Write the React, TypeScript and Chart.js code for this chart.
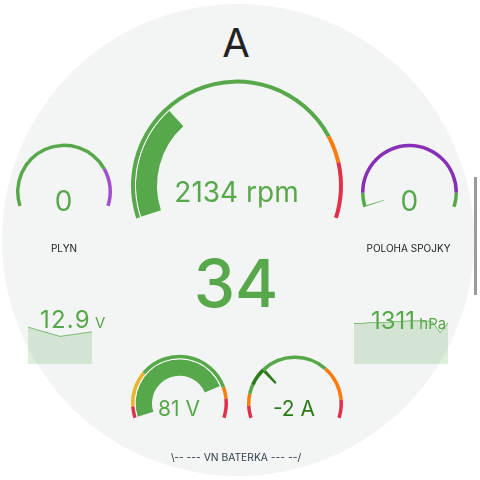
import React, { useEffect, useRef } from "react";
import { Chart, registerables } from "chart.js";

Chart.register(...registerables);

// ---------- colours ----------
const GREEN = "#57a84a";
const DARK_GREEN = "#2c7a16";
const ORANGE = "#fb7c0c";
const RED = "#e0314b";
const YELLOW = "#e8b531";
const PURPLE_A = "#a24ed0";
const PURPLE_B = "#8730b5";
const WHITE = "#ffffff";
const NONE = "rgba(0,0,0,0)";
const FILL = "rgba(87,168,74,0.2)";
const LINE = "rgba(87,168,74,0.75)";

// ---------- data ----------
const titleText = "A";
const gearValue = 34;

// engine rpm gauge
const rpmValue = 2134;
const rpmMin = 0;
const rpmBounds = [5500, 6000, 7000];
const rpmColors = [GREEN, ORANGE, RED];
const rpmUnit = "rpm";

// throttle (PLYN)
const plynValue = 0;
const plynMin = 0;
const plynBounds = [78, 100];
const plynColors = [GREEN, PURPLE_A];
const plynLabel = "PLYN";

// clutch position (POLOHA SPOJKY)
const spojkyValue = 0;
const spojkyMin = 0;
const spojkyBounds = [8, 92, 100];
const spojkyColors = [GREEN, PURPLE_B, GREEN];
const spojkyLabel = "POLOHA SPOJKY";

// 12V battery sparkline
const battValues = [12.9, 12.8, 12.85];
const battMin = 12.5;
const battMax = 13.0;
const battText = "12.9";
const battUnit = "V";

// pressure sparkline
const pressValues = [1311.4, 1311.4, 1311.5, 1311.5, 1311.5, 1311.6, 1311.6, 1311.7, 1311.7, 1311.7, 1311.6, 1310.4, 1311.5];
const pressMin = 1307;
const pressMax = 1312;
const pressText = "1311";
const pressUnit = "hPa";

// HV battery voltage
const hvVoltValue = 81;
const hvVoltMin = 0;
const hvVoltBounds = [6.5, 27, 82.5, 89, 100];
const hvVoltColors = [RED, YELLOW, GREEN, ORANGE, RED];
const hvVoltUnit = "V";

// HV battery current
const hvCurrValue = -2;
const hvCurrMin = -8;
const hvCurrBounds = [-6.6, -5.2, 5.8, 9.9, 12];
const hvCurrColors = [RED, ORANGE, GREEN, ORANGE, RED];
const hvCurrRecent = [-4.1, -2];
const hvCurrUnit = "A";
const hvLabel = "\\-- --- VN BATERKA --- --/";

// ---------- helpers ----------
const ROT = -108;
const CIRC = 216;

function widths(min: number, bounds: number[]) {
  const out: number[] = [];
  let prev = min;
  for (const b of bounds) {
    out.push(b - prev);
    prev = b;
  }
  return out;
}

type Ring = { data: number[]; colors: string[]; width: number };

function zoneRing(min: number, bounds: number[], colors: string[], width: number): Ring {
  return { data: widths(min, bounds), colors, width };
}

function barRing(min: number, max: number, value: number, color: string, width: number): Ring {
  return { data: [value - min, max - value], colors: [color, NONE], width };
}

function needleRing(min: number, max: number, value: number, half: number, color: string, width: number): Ring {
  const a = Math.max(value - half - min, 0);
  const b = value + half - min;
  return { data: [a, b - a, max - min - b], colors: [NONE, color, NONE], width };
}

function overlayZoneRing(min: number, bounds: number[], colors: string[], from: number, to: number, color: string, width: number): Ring {
  const cuts = Array.from(new Set([...bounds, from, to])).sort((x, y) => x - y);
  const data: number[] = [];
  const cols: string[] = [];
  let prev = min;
  for (const c of cuts) {
    if (c <= prev) continue;
    const mid = (prev + c) / 2;
    let col = colors[bounds.findIndex((b) => mid <= b)];
    if (mid >= from && mid <= to) col = color;
    data.push(c - prev);
    cols.push(col);
    prev = c;
  }
  return { data, colors: cols, width };
}

function offsetFactor() {
  const endRad = ((ROT - 90 + CIRC) * Math.PI) / 180;
  const maxY = Math.sin(endRad);
  const minY = -1;
  return -(maxY + minY) / 2;
}

function Gauge({ cx, cy, r, rings }: { cx: number; cy: number; r: number; rings: Ring[] }) {
  const ref = useRef<HTMLCanvasElement>(null);
  const size = Math.ceil(2 * r + 8);
  const offY = offsetFactor() * r;
  useEffect(() => {
    const total = rings.reduce((s, x) => s + x.width, 0);
    const chart = new Chart(ref.current as HTMLCanvasElement, {
      type: "doughnut",
      data: {
        datasets: rings.map((rg) => ({
          data: rg.data,
          backgroundColor: rg.colors,
          borderWidth: 0,
          weight: rg.width,
          hoverOffset: 0,
        })),
      } as any,
      options: {
        responsive: false,
        animation: false,
        devicePixelRatio: 1,
        events: [],
        rotation: ROT,
        circumference: CIRC,
        radius: r,
        cutout: `${((r - total) / r) * 100}%`,
        layout: { padding: 0 },
        plugins: { legend: { display: false }, tooltip: { enabled: false } },
      } as any,
    });
    return () => chart.destroy();
  }, []);
  return (
    <canvas
      ref={ref}
      width={size}
      height={size}
      style={{ position: "absolute", left: cx - size / 2, top: cy - size / 2 - offY, width: size, height: size }}
    />
  );
}

function Spark({ left, top, width, height, values, min, max }: { left: number; top: number; width: number; height: number; values: number[]; min: number; max: number }) {
  const ref = useRef<HTMLCanvasElement>(null);
  useEffect(() => {
    const chart = new Chart(ref.current as HTMLCanvasElement, {
      type: "line",
      data: {
        labels: values.map((_, i) => String(i)),
        datasets: [
          {
            data: values,
            borderColor: LINE,
            borderWidth: 1,
            backgroundColor: FILL,
            fill: "start",
            pointRadius: 0,
            tension: 0,
          },
        ],
      },
      options: {
        responsive: false,
        animation: false,
        devicePixelRatio: 1,
        events: [],
        layout: { padding: 0 },
        scales: {
          x: { display: false },
          y: { display: false, min, max },
        },
        plugins: { legend: { display: false }, tooltip: { enabled: false } },
      } as any,
    });
    return () => chart.destroy();
  }, []);
  return (
    <canvas
      ref={ref}
      width={width}
      height={height}
      style={{ position: "absolute", left, top, width, height }}
    />
  );
}

const FONT = "Inter, Roboto, 'Noto Sans', sans-serif";

function Label({ x, y, size, color, weight, children }: { x: number; y: number; size: number; color: string; weight?: number; children: React.ReactNode }) {
  return (
    <div
      style={{
        position: "absolute",
        left: x,
        top: y,
        transform: "translate(-50%, -50%)",
        fontFamily: FONT,
        fontSize: size,
        fontWeight: weight ?? 400,
        color,
        lineHeight: 1,
        whiteSpace: "nowrap",
      }}
    >
      {children}
    </div>
  );
}

export default function App() {
  const rpmMax = rpmBounds[rpmBounds.length - 1];
  const spojkyMax = spojkyBounds[spojkyBounds.length - 1];
  const hvVoltMax = hvVoltBounds[hvVoltBounds.length - 1];
  const hvCurrMax = hvCurrBounds[hvCurrBounds.length - 1];

  return (
    <div style={{ position: "fixed", left: 0, top: 0, width: 480, height: 480, background: "#ffffff", overflow: "hidden" }}>
      <div
        style={{
          position: "absolute",
          left: 238 - 236,
          top: 240 - 236,
          width: 472,
          height: 472,
          borderRadius: "50%",
          background: "#f3f4f4",
        }}
      />
      <div style={{ position: "absolute", left: 474, top: 177, width: 3, height: 118, background: "#9b9b9b" }} />

      <Label x={236} y={42.5} size={40} color="#222222">{titleText}</Label>

      {/* RPM gauge */}
      <Gauge
        cx={237}
        cy={185.5}
        r={106}
        rings={[
          zoneRing(rpmMin, rpmBounds, rpmColors, 4),
          barRing(rpmMin, rpmMax, rpmValue, WHITE, 1),
          barRing(rpmMin, rpmMax, rpmValue, GREEN, 21),
        ]}
      />
      <Label x={236.5} y={192} size={28} color={GREEN}>
        {rpmValue} {rpmUnit}
      </Label>

      {/* PLYN */}
      <Gauge cx={63.7} cy={192} r={48} rings={[zoneRing(plynMin, plynBounds, plynColors, 3.5)]} />
      <Label x={63.5} y={201} size={28} color={GREEN}>{plynValue}</Label>
      <Label x={64} y={248} size={10} color="#222222">{plynLabel}</Label>

      {/* POLOHA SPOJKY */}
      <Gauge
        cx={409.5}
        cy={192.5}
        r={48.5}
        rings={[
          zoneRing(spojkyMin, spojkyBounds, spojkyColors, 3.5),
          needleRing(spojkyMin, spojkyMax, spojkyValue, 0.5, GREEN, 18),
        ]}
      />
      <Label x={409.3} y={201} size={28} color={GREEN}>{spojkyValue}</Label>
      <Label x={408.5} y={248.3} size={10} color="#222222">{spojkyLabel}</Label>

      {/* gear */}
      <Label x={236} y={283} size={66} weight={500} color={GREEN}>{gearValue}</Label>

      {/* 12V sparkline */}
      <Spark left={28} top={318} width={64} height={46} values={battValues} min={battMin} max={battMax} />
      <div style={{ position: "absolute", left: 40, top: 307.5, fontFamily: FONT, fontSize: 24, color: GREEN, lineHeight: 1, whiteSpace: "nowrap" }}>
        <span style={{ fontSize: 24, letterSpacing: 1.2 }}>{battText}</span>
        <span style={{ fontSize: 15 }}> {battUnit}</span>
      </div>

      {/* pressure sparkline */}
      <Spark left={354} top={318} width={94} height={46} values={pressValues} min={pressMin} max={pressMax} />
      <div style={{ position: "absolute", left: 371, top: 308.5, fontFamily: FONT, fontSize: 24, color: GREEN, lineHeight: 1, whiteSpace: "nowrap" }}>
        <span style={{ fontSize: 24 }}>{pressText}</span>
        <span style={{ fontSize: 15 }}> {pressUnit}</span>
      </div>

      {/* HV voltage */}
      <Gauge
        cx={179.7}
        cy={403}
        r={48.5}
        rings={[
          zoneRing(hvVoltMin, hvVoltBounds, hvVoltColors, 3.5),
          barRing(hvVoltMin, hvVoltMax, hvVoltValue, WHITE, 1),
          barRing(hvVoltMin, hvVoltMax, hvVoltValue, GREEN, 16.5),
        ]}
      />
      <Label x={179} y={407.5} size={21} color={GREEN}>
        {hvVoltValue} {hvVoltUnit}
      </Label>

      {/* HV current */}
      <Gauge
        cx={294.7}
        cy={403.3}
        r={48}
        rings={[
          overlayZoneRing(hvCurrMin, hvCurrBounds, hvCurrColors, hvCurrRecent[0], hvCurrRecent[1], DARK_GREEN, 3.5),
          needleRing(hvCurrMin, hvCurrMax, hvCurrValue, 0.2, DARK_GREEN, 16.5),
        ]}
      />
      <Label x={294} y={407.5} size={21} color={DARK_GREEN}>
        {hvCurrValue} {hvCurrUnit}
      </Label>

      <Label x={236} y={457} size={10.3} color="#34404c">{hvLabel}</Label>
    </div>
  );
}
